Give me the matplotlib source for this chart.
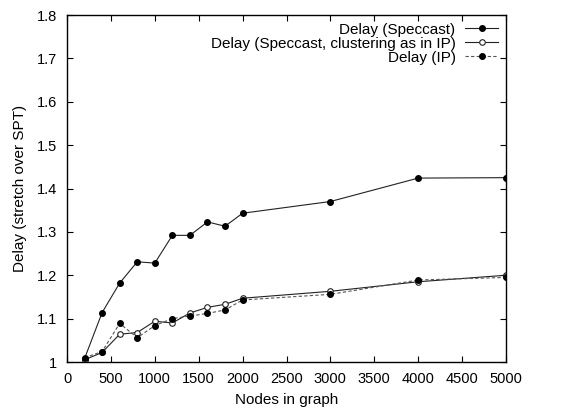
import matplotlib
matplotlib.use("Agg")
import matplotlib.pyplot as plt

nodes = [200, 400, 600, 800, 1000, 1200, 1400, 1600, 1800, 2000, 3000, 4000, 5000]
delay_speccast = [1.008, 1.114, 1.182, 1.231, 1.228, 1.292, 1.292, 1.323, 1.313, 1.343, 1.370, 1.424, 1.425]
delay_clust = [1.005, 1.022, 1.064, 1.068, 1.094, 1.090, 1.113, 1.126, 1.133, 1.147, 1.163, 1.185, 1.200]
delay_ip = [1.010, 1.024, 1.089, 1.056, 1.084, 1.100, 1.106, 1.112, 1.120, 1.143, 1.156, 1.189, 1.195]

plt.rcParams['font.family'] = ['Liberation Sans', 'DejaVu Sans']

fig = plt.figure(figsize=(5.75, 4.12), dpi=100)
ax = fig.add_axes([67/575, 1 - 362/412, (506-67)/575, (362-15)/412])

ax.plot(nodes, delay_speccast, color="#222222", lw=0.8, marker="o", ms=4,
        mfc="black", mec="black", label="Delay (Speccast)")
ax.plot(nodes, delay_clust, color="#222222", lw=0.8, marker="o", ms=4,
        mfc="white", mec="#222222", mew=0.8, label="Delay (Speccast, clustering as in IP)")
ax.plot(nodes, delay_ip, color="#555555", lw=0.8, ls=(0, (3, 2)), marker="o", ms=4,
        mfc="black", mec="black", label="Delay (IP)")

ax.set_xlim(0, 5000)
ax.set_ylim(1, 1.8)
ax.set_xticks(range(0, 5001, 500))
ax.set_yticks([1, 1.1, 1.2, 1.3, 1.4, 1.5, 1.6, 1.7, 1.8])
ax.set_yticklabels(["1", "1.1", "1.2", "1.3", "1.4", "1.5", "1.6", "1.7", "1.8"])
ax.tick_params(direction="in", top=True, right=True, length=4, labelsize=10.5, pad=7)
for s in ax.spines.values():
    s.set_linewidth(1.0)

ax.set_xlabel("Nodes in graph", fontsize=11, labelpad=5)
ax.set_ylabel("Delay (stretch over SPT)", fontsize=11, labelpad=7)

ax.legend(loc="upper right", frameon=False, markerfirst=False, fontsize=11,
          handlelength=2.2, handletextpad=0.6, labelspacing=0.0,
          borderaxespad=0.3, borderpad=0.2)

fig.savefig("out.png", dpi=100)
